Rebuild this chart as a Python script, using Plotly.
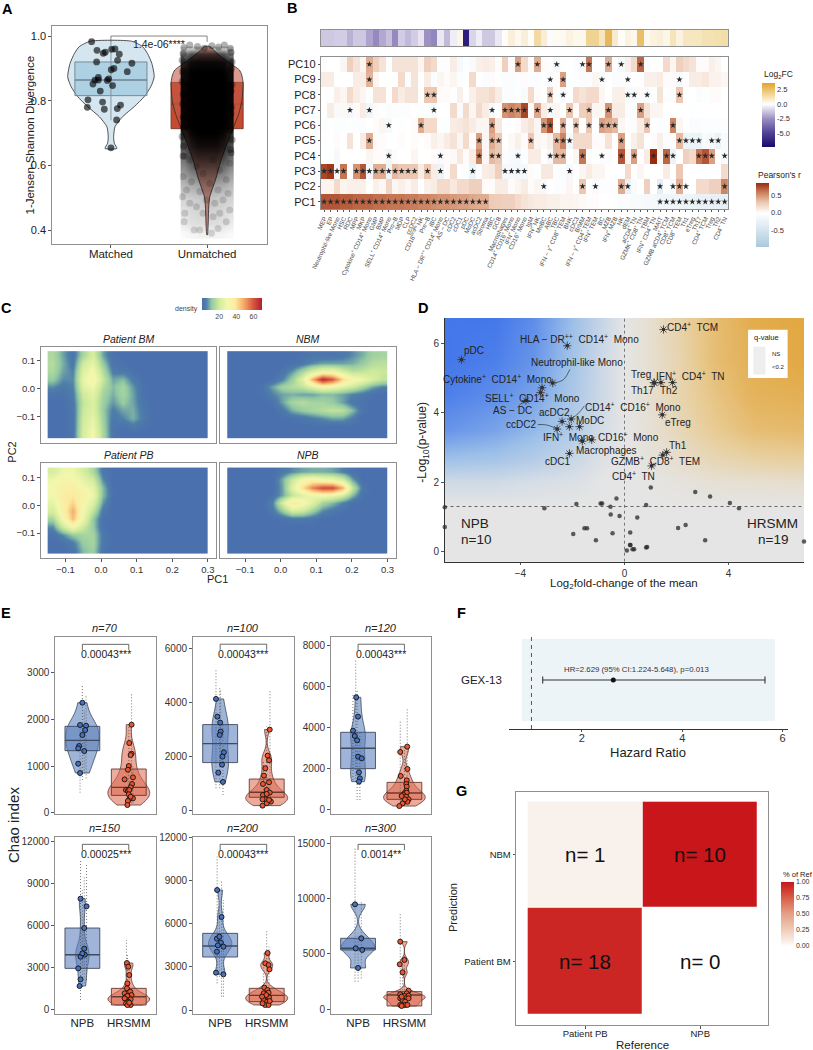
import plotly.graph_objects as go

W, H = 813, 1050
FONT = "Liberation Sans"
FRAME = "#8f8f8f"

# ---------- Panel A ----------
a_cats = ["Matched", "Unmatched"]
a_matched_x = [.799,.855,.920,.941,1.007,1.042,1.087,1.069,.851,1.218,1.031,1.003,1.170,.869,.834,.869,.813,.962,.976,1.017,.889,.761,.913,1.100,1.066,.754,.931,1.059,1.0]
a_matched_y = [.9825,.956,.9465,.950,.959,.960,.944,.925,.920,.916,.900,.896,.890,.872,.864,.864,.852,.863,.868,.847,.830,.803,.796,.787,.776,.780,.774,.741,.655]
a_tail_x = [1.761,1.865,1.924,2.045,2.114,2.2,2.235,1.768,1.82,2.062,2.131,1.958,1.889,2.166,1.744,1.993,2.08,2.218,1.785,1.924,2.114,1.837,2.028,2.2,1.751,1.958,2.131,1.889,2.062,1.82,2.235,1.768]
a_tail_y = [.427,.401,.401,.391,.406,.427,.463,.453,.484,.442,.453,.453,.473,.494,.504,.494,.484,.514,.525,.52,.525,.55,.545,.556,.566,.576,.586,.597,.617,.617,.607,.628]
a_edge_x = [1.76,1.82,1.9,1.97,2.05,2.12,2.18,2.24,1.75,2.25,1.74,2.26,1.745,2.255,1.74,2.26,1.75,2.25,1.745,2.255,1.75,2.25,1.76,2.24,1.74,2.26,1.755,2.245,1.75,2.25]
a_edge_y = [.965,.972,.968,.962,.97,.966,.972,.962,.945,.95,.925,.92,.89,.9,.86,.85,.82,.83,.79,.78,.75,.76,.72,.71,.69,.68,.66,.65,.63,.64]
a_cloud_x = [1.76,1.83,1.90,1.965,2.035,2.10,2.17,2.24]
a_cloud_y = [.96,.945,.92,.89,.85,.80,.75,.72,.70,.66,.62,.58,.54,.50,.46,.42,.39]
a_cloud_z = [
 [.15,.22,.25,.25,.25,.25,.22,.15],[.5,.68,.72,.72,.72,.72,.68,.5],[.8,.93,.95,.95,.95,.95,.93,.8],
 [.92,1,1,1,1,1,1,.92],[.95,1,1,1,1,1,1,.95],[.95,1,1,1,1,1,1,.95],[.95,1,1,1,1,1,1,.95],
 [.92,1,1,1,1,1,1,.92],[.82,.96,1,1,1,1,.96,.82],[.68,.85,.92,.92,.92,.92,.85,.68],[.55,.7,.75,.75,.75,.75,.7,.55],
 [.4,.5,.55,.55,.55,.55,.5,.4],[.28,.34,.36,.38,.38,.36,.34,.28],[.18,.2,.22,.24,.24,.22,.2,.18],[.12,.15,.17,.18,.18,.17,.15,.12],
 [.08,.12,.13,.13,.13,.13,.12,.08],[.02,.04,.05,.05,.05,.05,.04,.02]]
a_box_matched = [.816, .864, .92]
a_box_unmatched = [.714, .79, .857]
a_whisker_matched = [.74, .983]
a_viol_matched_y = [.984,.967,.946,.916,.874,.844,.813,.782,.751,.720,.689,.669,.653]
a_viol_matched_w = [.215,.33,.38,.425,.45,.415,.346,.242,.121,.042,.028,.035,.062]
a_viol_unmatched_y = [.968,.946,.921,.895,.880,.857,.802,.761,.715,.669,.617,.556,.504,.473,.411,.386]
a_viol_unmatched_w = [.028,.104,.215,.336,.36,.374,.363,.329,.27,.208,.145,.087,.028,.017,.01,.003]
a_bracket_y = [.982, 1.0]
a_p_text = "1.4e-06****"

# ---------- Panel B ----------
b_rows = ["PC1","PC2","PC3","PC4","PC5","PC6","PC7","PC8","PC9","PC10"]
b_cols = ["MEP","EP","Neutrophil-like Mono","HSC","RDC","MPP","MKP","Cytokine<sup>+</sup> CD14<sup>+</sup> Mono","GMP","BMP",
 "SELL<sup>+</sup> CD14<sup>+</sup> Mono","Pro−B","MDP","CLP","ccDC2","CD16<sup>bright</sup> NK","Pre−B","iBC","HLA − DR<sup>++</sup> CD14<sup>+</sup> Mono","AS − DC",
 "cDC2","cDC1","pDC","MoDC","acDC2","Stroma","HBC","GCB","Macrophages","CD14<sup>+</sup> CD16<sup>+</sup> Mono",
 "IFN<sup>+</sup> Mono","CD16<sup>+</sup> Mono","IgM","IFN<sup>+</sup> NK","MoBC","ABC","TBC","IFN − γ<sup>+</sup> CD8<sup>+</sup> TEM","BNK","cDC3",
 "BrMM","IFN − γ<sup>+</sup> CD4<sup>+</sup> TEM","IFN<sup>+</sup> TEM","BC","MZB","IFN<sup>+</sup> MZB","NK","dEM","aCD4<sup>+</sup> TN","GZMK<sup>+</sup> CD8<sup>+</sup> TN",
 "TBM","IFN<sup>+</sup> CD4<sup>+</sup> TN","MAIT","GZMB aCD4<sup>+</sup> TCM","CD8<sup>+</sup> TCM","CD8<sup>+</sup> TEM","Th1","eTreg","Th17","CD4<sup>+</sup> TCM",
 "Treg","Th2","CD4<sup>+</sup> TN"]
b_lfc = [-1.2,-1.2,-1.1,-1.1,-1.7,-1.2,-1.2,-2,-2.6,-1.9,
 -1.4,-2.6,-1.1,-1.5,-1.1,-.6,-2.4,-2.7,-.5,-1.5,
 -.4,.35,-6.4,-.9,-.4,-1.2,-1.2,-.5,.1,.6,
 .25,.6,.1,1.5,.7,-.1,.2,.2,.5,.3,
 .3,1.8,1.8,1.0,2.8,.8,.1,.5,.3,2.5,
 .3,.5,.6,.35,1.1,.5,1,1,1,1.2,
 1.2,1.3,1.4]
r_pc10 = [.02,0,0,.05,.25,.15,.05,.4,.25,.15,-.03,.15,.15,.15,.15,.05,.25,.2,-.03,-.03,.1,-.1,-.03,-.08,.08,.1,.08,.02,.25,.02,.45,.2,.02,.4,.02,-.03,-.12,-.02,0,-.03,-.08,.6,0,0,.4,0,-.1,.08,.2,.65,-.05,0,0,.2,.05,.25,.2,.15,.02,.02,.08,.05,0]
r_pc9 = [.1,.1,0,0,0,.1,.1,.38,.05,0,0,0,.2,-.05,.15,0,.1,-.05,.05,.02,.05,-.03,0,.2,0,-.05,.02,0,-.05,-.05,-.03,.02,-.03,-.03,-.02,-.08,.02,.45,-.02,-.03,-.05,-.05,.05,-.08,0,-.05,-.05,-.05,0,-.02,.08,.08,.1,.02,.02,-.08,-.01,.1,.1,.13,.07,.07,.04]
r_pc8 = [0,-.02,.08,.05,.2,.1,.05,-.02,.15,.15,0,.2,.1,.15,.15,-.02,.3,.3,.02,.02,-.02,.08,0,.08,.15,.15,.2,.1,-.05,-.05,-.02,-.08,.2,.02,0,.25,-.02,-.08,0,.2,.15,.2,.2,.04,0,.08,.08,-.08,-.08,.02,-.08,-.02,.15,-.03,-.05,.3,-.02,0,-.05,-.02,.02,.02,0]
r_pc7 = [0,.1,-.08,.03,-.12,.02,.1,-.15,.02,-.02,-.05,-.03,-.03,-.03,0,-.02,-.02,-.1,0,0,.2,-.08,.2,.05,.2,.1,-.1,0,.5,.55,.5,.75,.02,.42,.1,-.1,.05,0,.3,.02,.25,.3,.05,.05,.5,.1,.1,-.05,-.05,.45,.15,.05,.05,0,0,0,0,-.02,0,0,0,0,0]
r_pc6 = [-.04,-.02,-.04,-.04,-.02,-.03,-.03,0,.02,.05,-.1,0,-.02,0,.02,.4,.2,.2,-.02,-.02,.1,.12,.15,.1,.05,.05,.45,.12,0,0,.02,.1,.15,.05,.5,.7,.02,.4,0,.3,0,.3,0,.45,.4,.35,.05,-.03,.02,.1,.3,0,-.03,-.03,.55,.05,0,-.05,-.05,-.03,-.03,-.03,-.03]
r_pc5 = [-.02,0,.02,0,.15,0,.1,.4,.02,.02,0,0,.02,0,.02,0,.02,.08,.05,.1,.15,.05,.2,.02,.45,.05,.4,.3,0,.03,.08,.02,.3,.05,.03,.08,.35,.55,-.1,.2,.2,.2,.02,.02,.15,0,.45,-.02,.08,.15,0,.02,.08,-.05,-.05,.35,-.2,-.2,-.2,-.08,-.1,-.2,-.08]
r_pc4 = [0,-.02,-.1,0,0,0,0,.05,.02,.02,-.15,.02,0,0,.05,0,0,.02,-.08,.02,.03,.12,.02,.1,.55,.05,.35,.3,-.05,-.08,-.1,-.03,.1,.1,0,-.1,.35,.35,0,.05,.6,-.05,-.02,-.05,-.05,0,.7,.05,.45,0,.1,.95,.05,.65,-.2,0,.25,.2,.6,.7,.45,0,-.08]
r_pc3 = [.75,.8,-.12,.6,0,.5,.7,-.12,.4,.4,-.2,.35,.3,.3,.3,.1,.3,.1,-.2,.02,.2,0,-.03,-.2,-.05,.1,.12,.25,-.1,-.1,-.12,-.12,.02,-.02,.12,.12,-.03,-.03,-.1,-.02,.05,.1,.05,.05,0,0,0,.2,0,.05,0,0,0,.1,0,.3,0,0,0,0,0,0,.2]
r_pc2 = [.06,.06,.2,.06,.08,.08,.08,0,.08,.04,.22,.04,.08,.04,.1,-.01,.08,.1,.2,.2,.12,.2,.2,.25,.25,.02,.02,.1,.1,.02,.06,.1,.02,.05,-.1,0,-.03,-.03,.04,0,.3,0,-.08,-.03,-.03,-.03,.4,-.25,-.08,0,.25,0,-.3,-.03,-.1,.4,-.05,0,.2,.2,.25,.25,.55]
r_pc1 = [.7,.7,.7,.68,.68,.65,.65,.65,.62,.62,.6,.6,.6,.58,.58,.55,.55,.52,.5,.5,.48,.45,.45,.42,.4,.4,.28,.27,.25,.25,.2,.15,.12,.1,.1,.08,.08,.06,.06,.05,.03,.02,.02,0,0,-.02,-.05,-.05,-.08,-.08,-.1,-.1,-.15,-.17,-.18,-.19,-.2,-.2,-.22,-.22,-.25,-.25,-.28]
star_pc1 = list(range(26)) + [52,53,54,55,56,57,58,59,60,61,62]
star_pc2 = [34,40,42,46,47,52,54,55,56,62]
star_pc3 = [0,1,2,3,5,6,7,8,9,10,11,12,13,14,16,18,23,28,29,30,31,38]
star_pc4 = [10,18,24,26,27,30,35,36,37,40,43,46,48,51,53,54,58,59,60,62]
star_pc5 = [7,24,26,27,32,36,37,38,46,55,56,57,58,60,61]
star_pc6 = [10,15,26,34,35,37,39,41,43,44,45,50,54]
star_pc7 = [4,7,17,26,28,29,30,31,33,35,38,41,44,49]
star_pc8 = [16,17,35,37,47,48,50,55]
star_pc9 = [7,35,37,43,47,55]
star_pc10 = [7,30,33,36,40,41,44,46,49]

# ---------- Panel C ----------
c_x_edges = [-.15,-.122,-.094,-.066,-.037,-.009,.019,.047,.075,.103,.131,.159,.188,.216,.244,.272,.30]
c_y_edges = [-.175,-.147,-.119,-.090,-.062,-.034,-.006,.022,.050,.079,.107,.135]
c_patient_bm = [  # bottom row first
 [0,0,2,22,30,15,2,0,0,0,0,0,0,0,0,0],[0,0,2,21,28,14,2,1,3,1,0,0,0,0,0,0],[0,0,2,20,26,13,3,5,9,4,0,0,0,0,0,0],
 [0,0,2,19,24,12,4,8,9,3,0,0,0,0,0,0],[0,0,3,18,23,13,7,12,8,2,0,0,0,0,0,0],[2,1,4,20,25,14,9,14,8,1,0,0,0,0,0,0],
 [6,3,5,24,29,16,10,14,7,1,0,0,0,0,0,0],[12,6,6,26,33,19,8,10,4,0,0,0,0,0,0,0],[15,8,5,24,30,16,4,3,1,0,0,0,0,0,0,0],
 [16,9,3,20,26,12,2,1,0,0,0,0,0,0,0,0],[15,8,2,14,22,8,1,0,0,0,0,0,0,0,0,0]]
c_nbm = [
 [0]*16,[0]*16,[0,0,0,0,0,0,1,2,4,6,8,8,4,0,0,0],
 [0,0,0,0,0,3,9,12,14,16,18,17,10,2,0,0],[0,0,0,0,1,8,14,16,14,14,12,8,3,1,0,0],[0,0,0,1,5,8,9,8,8,10,10,8,5,3,1,0],
 [0,0,0,2,8,14,16,18,24,30,28,24,20,14,8,5],[0,0,0,0,1,5,13,24,48,68,60,42,32,28,22,18],[0,0,0,0,0,2,7,14,22,28,28,22,17,18,20,19],
 [0,0,0,0,0,0,1,3,6,8,8,8,9,12,16,17],[0,0,0,0,0,0,0,1,2,2,2,3,6,9,13,14]]
c_patient_pb = [
 [0,0,2,10,13,2,0,0,0,0,0,0,0,0,0,0],[0,1,4,12,14,3,0,0,0,0,0,0,0,0,0,0],[1,6,12,14,14,3,0,0,0,0,0,0,0,0,0,0],
 [6,20,30,20,12,1,0,0,0,0,0,0,0,0,0,0],[14,30,46,28,12,1,0,0,0,0,0,0,0,0,0,0],[22,34,48,30,18,3,0,0,0,0,0,0,0,0,0,0],
 [26,35,42,32,24,7,0,0,0,0,0,0,0,0,0,0],[30,36,38,34,28,10,1,0,0,0,0,0,0,0,0,0],[30,35,35,30,26,10,0,0,0,0,0,0,0,0,0,0],
 [28,33,31,26,21,6,0,0,0,0,0,0,0,0,0,0],[22,28,28,22,15,3,0,0,0,0,0,0,0,0,0,0]]
c_npb = [
 [0]*16,[0]*16,[0]*16,[0]*16,[0,0,0,0,0,1,3,3,2,0,0,0,0,0,0,0],
 [0,0,0,0,3,12,22,20,13,6,3,1,0,0,0,0],[0,0,0,0,5,22,38,32,24,14,10,5,1,0,0,0],[0,0,0,0,1,8,18,24,28,30,28,22,10,1,0,0],
 [0,0,0,0,0,8,24,40,54,62,62,48,18,3,0,0],[0,0,0,0,0,9,20,30,34,30,28,22,8,0,0,0],[0,0,0,0,0,3,6,8,9,9,8,5,1,0,0,0]]
c_titles = ["Patient BM","NBM","Patient PB","NPB"]

# ---------- Panel D ----------
d_sig_x = [1.5,-2.2,-6.27,-2.76,-3.17,-3.23,-3.79,1.13,1.15,1.40,1.85,1.45,-2.4,-2.05,-2.12,-1.73,-2.59,-1.62,-1.26,-2.12,1.62,1.47,1.04]
d_sig_y = [6.40,5.93,5.53,4.86,4.72,4.58,4.35,4.87,4.86,4.87,4.87,3.94,3.75,3.82,3.6,3.6,3.53,3.18,3.22,2.83,2.86,2.78,2.47]
d_ns_x = [1.01,2.72,3.29,-.31,4.05,4.4,.83,-.86,-.92,-1.85,-.54,-3.08,-6.91,-.53,-.19,.49,2.35,2.06,-1.54,-1.44,-6.91,-.46,-1.97,.22,-1.1,3.1,6.9,.23,.21,.31,.37,.09,.83,.87]
d_ns_y = [1.85,1.72,1.59,1.53,1.40,1.25,1.34,1.39,1.39,1.37,1.29,1.25,1.28,1.07,1.03,.98,.77,.68,.67,.67,.71,.53,.51,.55,.33,.33,.29,.19,.19,.07,.07,.03,.12,.13]
d_labels = ["CD4<sup>+</sup>  TCM","HLA − DR<sup>++</sup>  CD14<sup>+</sup>  Mono","pDC","Neutrophil-like Mono","Cytokine<sup>+</sup>  CD14<sup>+</sup>  Mono","SELL<sup>+</sup>  CD14<sup>+</sup>  Mono","AS − DC","acDC2","ccDC2","MoDC","CD14<sup>+</sup>  CD16<sup>+</sup>  Mono","Treg","IFN<sup>+</sup>  CD4<sup>+</sup>  TN","Th17","Th2","eTreg","IFN<sup>+</sup>  Mono","CD16<sup>+</sup>  Mono","Macrophages","Th1","GZMB<sup>+</sup>  CD8<sup>+</sup>  TEM","cDC1","CD4<sup>+</sup>  TN"]
d_label_x = [2.63,-1.73,-5.79,-1.81,-4.9,-3.53,-4.32,-2.69,-3.97,-1.31,.33,.62,2.54,.71,1.72,2.06,-2.14,.17,-.69,2.04,1.19,-2.59,.33]
d_label_y = [6.48,6.13,5.78,5.45,4.97,4.44,4.06,4.02,3.65,3.77,4.16,5.11,5.07,4.64,4.64,3.72,3.3,3.29,2.91,3.05,2.6,2.6,2.17]
d_seg_x = [-2.1,-2.35,-2.7,None,-3.81,-4.0,-4.1,None,-3.33,-3.0,-2.6,None,-1.54,-1.78,-2.05]
d_seg_y = [5.25,4.95,4.86,None,4.32,4.25,4.15,None,3.66,3.65,3.54,None,4.2,3.98,3.82]
d_grad_x = [-6.9,-5,-3.5,-2,-.8,0,.8,2,3.5,5,6.9]
d_grad_y = [-.29,1.3,2,2.7,3.5,4.5,5.5,6.73]
d_grad_z = [[0]*11,[0]*11,
 [-.15,-.15,-.1,-.07,0,0,0,.05,.1,.12,.15],
 [-.5,-.45,-.35,-.2,-.05,0,.05,.15,.3,.4,.45],
 [-.8,-.7,-.55,-.35,-.1,0,.08,.25,.5,.7,.75],
 [-.95,-.85,-.7,-.4,-.15,0,.1,.3,.6,.85,.9],
 [-1,-.95,-.8,-.45,-.15,0,.1,.3,.7,.9,1],
 [-1,-1,-.85,-.5,-.2,0,.1,.35,.7,.95,1]]

# ---------- Panel E ----------
e_names = ["n=70","n=100","n=120","n=150","n=200","n=300"]
e_ranges = [[-28,3771],[-137,6441],[-209,8418],[-285,12306],[-257,12021],[-397,15568]]
e_ticks = [[0,1000,2000,3000],[0,2000,4000,6000],[0,2000,4000,6000,8000],[0,3000,6000,9000,12000],[0,3000,6000,9000,12000],[0,5000,10000,15000]]
e_p = ["0.00043***","0.00043***","0.00043***","0.00025***","0.00043***","0.0014**"]
e_bracket = [[3486,3607,3400],[5953,6163,5804],[7776,8052,7581],[11359,11762,11074],[11098,11491,10844],[14367,14878,14036]]
e_npb_x = [[0,-.05,.08,.06,0,-.07,-.09,.04,-.09,-.05],[-.09,-.06,0,.01,-.01,.08,.05,.04,-.04,.06],[-.04,0,-.11,-.07,-.02,0,.08,.02,.04,.02],
 [-.04,.09,.04,.04,.05,-.04,-.09,-.04,-.06,0],[-.065,.03,-.07,.015,-.05,.07,-.07,-.09,.07,-.015],[-.065,.07,.09,-.05,0]]
e_npb_y = [[2357,1879,1864,1771,1664,1429,1379,1321,1050,850],[4133,3476,3254,2920,2796,2152,1992,1695,1398,1052],[5469,4529,3847,3587,3377,2581,2500,1818,1526,1364],
 [7897,7351,5810,4340,3913,3770,2940,2158,1684,4007],[8324,6451,4948,4671,4486,4393,4046,2590,2474,5087],[9468,6403,5350,5500,3727]]
e_hr_x = [[.06,.01,.06,.04,0,-.02,-.09,.09,.07,.04,-.06,-.02,.01,0,.09,.01,-.02,-.03,.04],
 [.065,.02,.05,-.03,-.06,-.08,.05,0,.065,-.04,-.08,0,-.03,-.09,.065,.09,0,-.09,.05],
 [.06,-.09,.065,-.08,.05,.04,.05,.04,0,.05,-.02,.04,.09,0,.065,-.04,-.11,.01,-.06],
 [-.04,-.01,.01,-.03,-.04,-.09,.03,-.06,.06,.01,-.03,-.04,.04,-.01,-.06,.04,-.03,-.09,.01],
 [.02,-.03,.04,.06,-.05,.015,-.065,.04,.01,-.04,.05,-.065,.01,-.03,.04,-.09,.065,-.01,-.1],
 [-.09,0,-.1,-.04,.09,-.09,.05,0,.09,-.09,.035,-.04,.09,-.06,.015,-.09,.015,.065,-.06]]
e_hr_y = [[1886,1493,1264,1236,1000,921,714,757,614,543,486,464,486,393,307,286,250,164,343],
 [2994,2029,1856,1559,1287,978,1040,755,656,569,569,606,408,408,346,322,260,173,384],
 [3068,2808,1981,1640,1429,1250,1120,925,795,828,714,633,503,390,390,308,178,503,665],
 [3320,3059,2466,1873,1518,1162,1280,925,1043,806,972,688,735,569,451,332,332,806,498],
 [3954,3237,3121,2821,1549,1387,1156,1202,925,809,879,694,578,347,347,462,624,1040,925],
 [6102,4449,4058,3336,1683,1353,1443,1202,1232,992,992,842,992,1142,691,391,391,391,300]]
e_box_npb = [[1329,1550,1850],[1770,2475,3180],[1997,2987,3766],[2940,3913,5810],[3676,4439,5318],[5350,5500,6403]]
e_box_hr = [[371,543,936],[483,668,1160],[503,812,1331],[332,925,1518],[578,1017,1503],[300,1292,1593]]
e_vw_npb = [.72,.36,.32,.29,.5,.72]
e_vw_hr = [.9,.9,.9,.9,.9,.9]
e_bw_npb = [240,450,500,700,550,600]
e_bw_hr = [170,230,260,260,260,260]
e_dot_npb_x = [[-.05,0,.08,.04],[-.09,-.01,.06,.01],[-.05,-.02,.04,-.11],[-.04,.09,.04,0],[-.065,.03,.07,-.015],[-.065,.07,0]]
e_dot_npb_lo = [[430,700,735,840],[817,817,569,1621],[1364,471,471,1445],[688,2111,1873,1636],[1850,925,925,2312],[2495,2795,2495]]
e_dot_npb_hi = [[1843,2750,2520,2200],[5272,4592,3230,4468],[7289,5828,3718,5666],[10648,10411,9462,8513],[10636,9017,7630,7168],[14518,9708,6853]]
e_dot_hr_x = [[.06,0,.09],[.07,0,-.07],[.06,-.09,0],[-.05,.01,-.03],[0,.05,-.065],[-.09,0,-.04]]
e_dot_hr_lo = [[200,271,200],[260,198,198],[308,146,227],[213,213,190],[185,185,185],[90,90,90]]
e_dot_hr_hi = [[2557,1914,986],[4468,3106,1869],[4935,4286,3068],[4956,3059,4008],[5549,4393,3006],[8656,5050,3246]]

# ---------- Panel F ----------
f_hr = 2.629
f_lo = 1.224
f_hi = 5.648
f_ref = 1
f_text = "HR=2.629 (95% CI:1.224-5.648), p=0.013"

# ---------- Panel G ----------
g_x = ["Patient PB","NPB"]
g_y = ["Patient BM","NBM"]
g_z = [[.947,0],[.053,1]]
g_n = [[18,0],[1,10]]


# ---------- helpers ----------
fig = go.Figure()
layout = dict(width=W, height=H, margin=dict(l=0,r=0,t=0,b=0,pad=0,autoexpand=False), paper_bgcolor="white", plot_bgcolor="white",
              showlegend=False, violinmode="overlay", font=dict(family=FONT, color="#222"))
annots, shapes = [], []
count = [0]


def axes(x0, y0, x1, y1, xr, yr, frame=True, xkw=None, ykw=None, lc=FRAME, lw=1.3):
    count[0] += 1
    n = count[0]
    sx = "" if n == 1 else str(n)
    base = dict(showgrid=False, zeroline=False, showline=True, linecolor=lc, linewidth=lw, mirror=frame,
                ticks="outside", ticklen=2.5, tickcolor="#555", tickwidth=.8, tickfont=dict(size=10, color="#333", family=FONT))
    xa = dict(base, domain=[x0/W, x1/W], range=xr, anchor="y"+sx)
    ya = dict(base, domain=[1-y1/H, 1-y0/H], range=yr, anchor="x"+sx)
    xa.update(xkw or {})
    ya.update(ykw or {})
    layout["xaxis"+sx] = xa
    layout["yaxis"+sx] = ya
    return "x"+sx, "y"+sx


def note(text, x, y, size=10, color="#222", anchor="center", angle=0, xref="paper", yref="paper", bold=False):
    if xref == "paper":
        x = x/W
    if yref == "paper":
        y = 1-y/H
    annots.append(dict(text=("<b>%s</b>" % text) if bold else text, x=x, y=y, xref=xref, yref=yref, showarrow=False,
                       xanchor=anchor, yanchor="middle", textangle=angle, font=dict(size=size, color=color, family=FONT)))


def box_trace(cx, stats, hw, fill, line, xa, ya, med_w=1.4, lw=.9):
    q1, med, q3 = stats
    fig.add_trace(go.Scatter(x=[cx-hw,cx+hw,cx+hw,cx-hw,cx-hw], y=[q1,q1,q3,q3,q1], mode="lines", fill="toself",
                             fillcolor=fill, line=dict(color=line, width=lw), xaxis=xa, yaxis=ya, hoverinfo="skip"))
    fig.add_trace(go.Scatter(x=[cx-hw,cx+hw], y=[med,med], mode="lines", line=dict(color=line, width=med_w),
                             xaxis=xa, yaxis=ya, hoverinfo="skip"))


def outline(cx, ys, ws, fill, xa, ya):
    xs = [cx-w for w in ws] + [cx+w for w in reversed(ws)] + [cx-ws[0]]
    yy = list(ys) + list(reversed(ys)) + [ys[0]]
    fig.add_trace(go.Scatter(x=xs, y=yy, mode="lines", fill="toself", fillcolor=fill, line=dict(color="#2b2b2b", width=.8, shape="spline", smoothing=.6),
                             xaxis=xa, yaxis=ya, hoverinfo="skip"))


for letter, lx, ly in [("A",7,9),("B",292,8),("C",6,308),("D",423,308),("E",6,613),("F",461,613),("G",462,791)]:
    note(letter, lx, ly, size=14.5, color="#000", bold=True)

# ---------- A ----------
xa, ya = axes(52, 26, 267, 244, [.387,2.623], [.358,1.031],
              xkw=dict(tickvals=[1,2], ticktext=a_cats, ticklabelstandoff=-3, tickfont=dict(size=11.5,color="#222",family=FONT)),
              ykw=dict(tickvals=[.4,.6,.8,1.0], tickformat=".1f", tickfont=dict(size=11,color="#222",family=FONT)))
note("1-Jensen-Shannon Divergence", 29.5, 135, size=11.5, angle=-90)
box_trace(2, a_box_unmatched, .375, "#c64a2f", "#70382b", xa, ya, med_w=1.1)
outline(2, a_viol_unmatched_y, a_viol_unmatched_w, "rgba(196,90,70,.6)", xa, ya)
outline(1, a_viol_matched_y, a_viol_matched_w, "#d5e6f0", xa, ya)
box_trace(1, a_box_matched, .375, "rgba(140,190,215,.55)", "#6f8290", xa, ya, med_w=1.5)
fig.add_trace(go.Scatter(x=[1,1], y=a_whisker_matched, mode="lines", line=dict(color="#7f8f99",width=.9), xaxis=xa, yaxis=ya, hoverinfo="skip"))
fig.add_trace(go.Scatter(x=a_matched_x, y=a_matched_y, mode="markers", marker=dict(size=6.8,color="rgba(0,0,0,.62)"), xaxis=xa, yaxis=ya, hoverinfo="skip"))
fig.add_trace(go.Scatter(x=[1,1,2,2], y=[a_bracket_y[0],a_bracket_y[1],a_bracket_y[1],a_bracket_y[0]], mode="lines", line=dict(color="#666",width=.8), xaxis=xa, yaxis=ya, hoverinfo="skip"))
note(a_p_text, 1.5, .974, size=10.5, xref=xa, yref=ya)
# the overplotted cloud of unmatched pairs sits on top of the violin
ov_xa, ov_ya = axes(52, 26, 267, 244, [.387,2.623], [.358,1.031], frame=False, xkw=dict(visible=False, overlaying=xa), ykw=dict(visible=False, overlaying=ya))
fig.add_trace(go.Heatmap(x=a_cloud_x, y=a_cloud_y, z=a_cloud_z, zmin=0, zmax=1, zsmooth="best", showscale=False, hoverinfo="skip",
                         colorscale=[[0,"rgba(0,0,0,0)"],[1,"rgba(0,0,0,1)"]], xaxis=ov_xa, yaxis=ov_ya))
fig.add_trace(go.Scatter(x=a_tail_x, y=a_tail_y, mode="markers", marker=dict(size=7,color="rgba(0,0,0,.14)"), xaxis=ov_xa, yaxis=ov_ya, hoverinfo="skip"))
fig.add_trace(go.Scatter(x=a_edge_x, y=a_edge_y, mode="markers", marker=dict(size=7,color="rgba(0,0,0,.3)"), xaxis=ov_xa, yaxis=ov_ya, hoverinfo="skip"))

# ---------- B ----------
xa, ya = axes(320.9, 30, 727.9, 46, [-.5,62.5], [-.5,.5], xkw=dict(showticklabels=False, ticks=""), ykw=dict(showticklabels=False, ticks=""))
lfc_scale = [[0,"#170a6a"],[.23,"#55449a"],[.44,"#9a8dc2"],[.668,"#ffffff"],[.8,"#f3dca6"],[1,"#e2a229"]]
fig.add_trace(go.Heatmap(z=[b_lfc], x=list(range(63)), y=[0], zmin=-7.25, zmax=3.6, colorscale=lfc_scale, xaxis=xa, yaxis=ya, hoverinfo="skip",
    colorbar=dict(x=761.7/W, xanchor="left", y=1-82.7/H, yanchor="top", lenmode="pixels", len=64.3, thicknessmode="pixels", thickness=12.6,
                  xpad=0, ypad=0, outlinewidth=0, tickvals=[-5,-2.5,0,2.5], ticktext=["-5.0","-2.5","0.0","2.5"], ticks="", tickfont=dict(size=7.5,color="#333",family=FONT))))
note("Log<sub>2</sub>FC", 761.7, 74, size=8.5, anchor="left")
xa, ya = axes(320.9, 56.7, 727.9, 209.3, [-.5,62.5], [-.5,9.5],
              xkw=dict(tickvals=list(range(63)), ticktext=b_cols, tickangle=-65, ticklen=2, tickfont=dict(size=6.2,color="#444",family=FONT)),
              ykw=dict(tickvals=list(range(10)), ticktext=b_rows, ticklen=2, tickfont=dict(size=11,color="#222",family=FONT)))
r_matrix = [r_pc1,r_pc2,r_pc3,r_pc4,r_pc5,r_pc6,r_pc7,r_pc8,r_pc9,r_pc10]
r_scale = [[0,"#aac9dc"],[.529,"#ffffff"],[.7,"#ecc6b0"],[.83,"#cf8a68"],[1,"#9b2a0e"]]
fig.add_trace(go.Heatmap(z=r_matrix, x=list(range(63)), y=list(range(10)), zmin=-.944, zmax=.84, colorscale=r_scale, xaxis=xa, yaxis=ya, hoverinfo="skip",
    colorbar=dict(x=756/W, xanchor="left", y=1-182.7/H, yanchor="top", lenmode="pixels", len=64, thicknessmode="pixels", thickness=13,
                  xpad=0, ypad=0, outlinewidth=0, tickvals=[-.5,0,.5], ticktext=["-0.5","0.0","0.5"], ticks="", tickfont=dict(size=7.5,color="#333",family=FONT))))
note("Pearson's r", 756, 175, size=8.5, anchor="left")
for row, st in enumerate([star_pc1,star_pc2,star_pc3,star_pc4,star_pc5,star_pc6,star_pc7,star_pc8,star_pc9,star_pc10]):
    fig.add_trace(go.Scatter(x=st, y=[row]*len(st), mode="markers", marker=dict(symbol="star", size=4.8, color="#2a2a2a"), xaxis=xa, yaxis=ya, hoverinfo="skip"))

# ---------- C ----------
spectral = [[0,"#4a70ae"],[.07,"#4f7fa9"],[.16,"#93c9a3"],[.28,"#cfea9b"],[.42,"#f2f8ae"],[.55,"#fdeb9f"],[.7,"#f4a968"],[.85,"#d9583f"],[1,"#ab1f32"]]
c_boxes = [(40.7,346.7,216.3,443,False,True),(220.3,346.7,396,443,False,False),(40.7,462.7,216.3,558.3,True,True),(220.3,462.7,396,558.3,True,False)]
for k, (mat, (x0,y0,x1,y1,bx,ly)) in enumerate(zip([c_patient_bm,c_nbm,c_patient_pb,c_npb], c_boxes)):
    xa, ya = axes(x0, y0, x1, y1, [-.1695,.3237], [-.193,.151] if k < 2 else [-.1905,.1525],
                  xkw=dict(tickvals=[-.1,0,.1,.2,.3], tickformat=".1f", showticklabels=bx, ticks="outside" if bx else "", tickfont=dict(size=9.5,color="#333",family=FONT)),
                  ykw=dict(tickvals=[-.1,0,.1], tickformat=".1f", showticklabels=ly, ticks="outside" if ly else "", tickfont=dict(size=9.5,color="#333",family=FONT)))
    cb = dict(orientation="h", x=232/W, xanchor="center", y=1-298/H, yanchor="top", lenmode="pixels", len=60, thicknessmode="pixels", thickness=12,
              xpad=0, ypad=0, outlinewidth=0, tickvals=[20,40,60], ticks="", tickfont=dict(size=7,color="#444",family=FONT))
    fig.add_trace(go.Heatmap(z=mat, x=c_x_edges, y=c_y_edges, zmin=0, zmax=70, zsmooth="best", colorscale=spectral, showscale=(k == 0),
                             colorbar=cb if k == 0 else None, xaxis=xa, yaxis=ya, hoverinfo="skip"))
    note("<i>%s</i>" % c_titles[k], (x0+x1)/2, y0-7.7, size=10.5)
note("density", 186.5, 309, size=7, color="#444")
note("PC2", 12, 452.7, size=11, angle=-90)
note("PC1", 218, 578.5, size=11)

# ---------- D ----------
xa, ya = axes(444.5, 318, 804, 561.7, [-6.92,6.9], [-.29,6.73], frame=False, lc="#333", lw=1,
              xkw=dict(tickvals=[-4,0,4], tickfont=dict(size=10,color="#333",family=FONT)),
              ykw=dict(tickvals=[0,2,4,6], tickfont=dict(size=10,color="#333",family=FONT)))
fig.add_trace(go.Heatmap(x=d_grad_x, y=d_grad_y, z=d_grad_z, zmin=-1, zmax=1, zsmooth="best", showscale=False, hoverinfo="skip",
                         colorscale=[[0,"#4478ea"],[.25,"#9dc0e8"],[.5,"#e5e5e5"],[.75,"#e8cb93"],[1,"#e2a843"]], xaxis=xa, yaxis=ya))
d_ref_x = [0, 0]
d_ref_span = [-.29, 6.73]
d_ref_y = [1.3, 1.3]
d_ref_xspan = [-6.92, 6.9]
fig.add_trace(go.Scatter(x=d_ref_x, y=d_ref_span, mode="lines", line=dict(color="#777",width=1,dash="3px,3px"), xaxis=xa, yaxis=ya, hoverinfo="skip"))
fig.add_trace(go.Scatter(x=d_ref_xspan, y=d_ref_y, mode="lines", line=dict(color="#666",width=1,dash="3px,3px"), xaxis=xa, yaxis=ya, hoverinfo="skip"))
fig.add_trace(go.Scatter(x=d_ns_x, y=d_ns_y, mode="markers", marker=dict(size=4.5,color="rgba(40,40,40,.75)"), xaxis=xa, yaxis=ya, hoverinfo="skip", cliponaxis=False))
fig.add_trace(go.Scatter(x=d_sig_x, y=d_sig_y, mode="markers", marker=dict(size=3.5,color="#222"), xaxis=xa, yaxis=ya, hoverinfo="skip"))
fig.add_trace(go.Scatter(x=d_sig_x, y=d_sig_y, mode="markers", marker=dict(symbol="asterisk-open",size=7,color="#333",line=dict(color="#333",width=.8)), xaxis=xa, yaxis=ya, hoverinfo="skip"))
fig.add_trace(go.Scatter(x=d_seg_x, y=d_seg_y, mode="lines", line=dict(color="#333",width=.7,shape="spline"), xaxis=xa, yaxis=ya, hoverinfo="skip"))
for t, lx, ly in zip(d_labels, d_label_x, d_label_y):
    note(t, lx, ly, size=10, xref=xa, yref=ya)
note("NPB", -6.37, .82, size=13.5, anchor="left", xref=xa, yref=ya)
note("n=10", -6.37, .34, size=13.5, anchor="left", xref=xa, yref=ya)
note("HRSMM", 5.7, .82, size=13.5, xref=xa, yref=ya)
note("n=19", 5.7, .34, size=13.5, xref=xa, yref=ya)
note("-Log<sub>10</sub>(p-value)", 423, 441.7, size=12, angle=-90)
note("Log<sub>2</sub>fold-change of the mean", 624, 584, size=11.5)
d_leg_box_x = [4.75, 6.27]
d_leg_box_y = [5.0, 6.39]
d_leg_tile_x = [4.95, 5.42]
d_leg_tile_y = [5.1, 5.9]
d_leg_x = [5.2]
d_leg_ns = [5.69]
d_leg_sig = [5.31]
shapes.append(dict(type="rect", xref=xa, yref=ya, x0=d_leg_box_x[0], x1=d_leg_box_x[1], y0=d_leg_box_y[0], y1=d_leg_box_y[1], fillcolor="white", line=dict(width=0), layer="above"))
shapes.append(dict(type="rect", xref=xa, yref=ya, x0=d_leg_tile_x[0], x1=d_leg_tile_x[1], y0=d_leg_tile_y[0], y1=d_leg_tile_y[1], fillcolor="#eeeeee", line=dict(width=0), layer="above"))
leg_xa, leg_ya = axes(444.5, 318, 804, 561.7, [-6.92,6.9], [-.29,6.73], frame=False, xkw=dict(visible=False, overlaying=xa), ykw=dict(visible=False, overlaying=ya))
fig.add_trace(go.Scatter(x=d_leg_x, y=d_leg_ns, mode="markers", marker=dict(size=4,color="#111"), xaxis=leg_xa, yaxis=leg_ya, hoverinfo="skip"))
fig.add_trace(go.Scatter(x=d_leg_x, y=d_leg_sig, mode="markers", marker=dict(size=3,color="#222"), xaxis=leg_xa, yaxis=leg_ya, hoverinfo="skip"))
fig.add_trace(go.Scatter(x=d_leg_x, y=d_leg_sig, mode="markers", marker=dict(symbol="asterisk-open",size=7,color="#333",line=dict(color="#333",width=.8)), xaxis=leg_xa, yaxis=leg_ya, hoverinfo="skip"))
note("q-value", 5.46, 6.16, size=7.5, xref=xa, yref=ya)
note("NS", 5.6, 5.69, size=6, anchor="left", xref=xa, yref=ya)
note("&lt;0.2", 5.6, 5.31, size=6, anchor="left", xref=xa, yref=ya)

# ---------- E ----------
e_boxes = [(55,636.7,155.7,814),(192.7,636.7,293.7,814),(330.7,636.7,431.3,814),(55,836.7,155.7,1013.7),(192.7,836.7,293.7,1013.7),(330.7,836.7,431.3,1013.7)]
NPB_V, HR_V = "rgba(100,135,190,.62)", "rgba(224,115,90,.62)"
NPB_B, HR_B = "rgba(95,130,190,.6)", "rgba(220,105,80,.55)"
for k, (x0,y0,x1,y1) in enumerate(e_boxes):
    xa, ya = axes(x0, y0, x1, y1, [.41,2.58], e_ranges[k],
                  xkw=dict(tickvals=[1,2], ticktext=["NPB","HRSMM"], showticklabels=k >= 3, ticks="", ticklabelstandoff=-2, tickfont=dict(size=11.5,color="#222",family=FONT)),
                  ykw=dict(tickvals=e_ticks[k], tickformat="d", tickfont=dict(size=10,color="#333",family=FONT)))
    fig.add_trace(go.Violin(x=[1]*len(e_npb_y[k]), y=e_npb_y[k], width=e_vw_npb[k], scalemode="width", spanmode="hard", bandwidth=e_bw_npb[k], points=False,
                            fillcolor=NPB_V, line=dict(color="#2e3a50",width=.7), xaxis=xa, yaxis=ya, hoverinfo="skip"))
    fig.add_trace(go.Violin(x=[2]*len(e_hr_y[k]), y=e_hr_y[k], width=e_vw_hr[k], scalemode="width", spanmode="hard", bandwidth=e_bw_hr[k], points=False,
                            fillcolor=HR_V, line=dict(color="#4a2a22",width=.7), xaxis=xa, yaxis=ya, hoverinfo="skip"))
    box_trace(1, e_box_npb[k], .375, NPB_B, "#3e4a60", xa, ya)
    box_trace(2, e_box_hr[k], .375, HR_B, "#6a3a30", xa, ya)
    for c, dx, lo, hi in [(1,e_dot_npb_x[k],e_dot_npb_lo[k],e_dot_npb_hi[k]), (2,e_dot_hr_x[k],e_dot_hr_lo[k],e_dot_hr_hi[k])]:
        px, py = [], []
        for d, l, h in zip(dx, lo, hi):
            px += [c+d, c+d, None]
            py += [l, h, None]
        fig.add_trace(go.Scatter(x=px, y=py, mode="lines", line=dict(color="#555",width=.8,dash="1px,2px"), xaxis=xa, yaxis=ya, hoverinfo="skip"))
    fig.add_trace(go.Scatter(x=[1+d for d in e_npb_x[k]], y=e_npb_y[k], mode="markers", marker=dict(size=5,color="#4472c0",line=dict(color="#111",width=.9)), xaxis=xa, yaxis=ya, hoverinfo="skip"))
    fig.add_trace(go.Scatter(x=[2+d for d in e_hr_x[k]], y=e_hr_y[k], mode="markers", marker=dict(size=5,color="#ea5530",line=dict(color="#111",width=.9)), xaxis=xa, yaxis=ya, hoverinfo="skip"))
    lo_b, hi_b, ty = e_bracket[k]
    fig.add_trace(go.Scatter(x=[1,1,2,2], y=[lo_b,hi_b,hi_b,lo_b], mode="lines", line=dict(color="#444",width=.8), xaxis=xa, yaxis=ya, hoverinfo="skip"))
    note(e_p[k], 1.5, ty, size=10.5, xref=xa, yref=ya)
    note("<i>%s</i>" % e_names[k], (x0+x1)/2, y0-8.7, size=11)
note("Chao index", 13, 825, size=15, angle=-90)

# ---------- F ----------
xa, ya = axes(509, 634, 787.7, 729, [.553,6.1], [0,1], frame=False, lc="#333", lw=1.1,
              xkw=dict(tickvals=[2,4,6], ticklen=2, ticklabelstandoff=-3, tickfont=dict(size=11,color="#333",family=FONT)),
              ykw=dict(visible=False))
f_band_x = [.806, 5.846]
f_band_y = [.084, .947]
f_row_y = [.516]
f_dash_y = [0, 1]
shapes.append(dict(type="rect", xref=xa, yref=ya, x0=f_band_x[0], x1=f_band_x[1], y0=f_band_y[0], y1=f_band_y[1], fillcolor="#edf4f8", line=dict(width=0), layer="below"))
fig.add_trace(go.Scatter(x=[f_ref,f_ref], y=f_dash_y, mode="lines", line=dict(color="#555",width=1,dash="4px,4px"), xaxis=xa, yaxis=ya, hoverinfo="skip"))
fig.add_trace(go.Scatter(x=[f_hr], y=f_row_y, mode="markers", marker=dict(size=5,color="#111"),
                         error_x=dict(type="data", symmetric=False, array=[f_hi-f_hr], arrayminus=[f_hr-f_lo], thickness=1.1, width=3.5, color="#333"),
                         xaxis=xa, yaxis=ya, hoverinfo="skip"))
note(f_text, 636.7, 669, size=7.8, color="#333")
note("GEX-13", 504, 680, size=11.5, anchor="right")
note("Hazard Ratio", 648, 752.5, size=13)

# ---------- G ----------
xa, ya = axes(516.3, 791.7, 768.3, 1025, [-.599,1.592], [-.597,1.594],
              xkw=dict(tickvals=[0,1], ticktext=g_x, ticklabelstandoff=-3, tickfont=dict(size=9.5,color="#222",family=FONT)),
              ykw=dict(tickvals=[0,1], ticktext=g_y, tickfont=dict(size=9.5,color="#222",family=FONT)))
g_scale = [[0,"#ffffff"],[.05,"#f9f2ec"],[.25,"#f0cdb8"],[.5,"#e4a086"],[.75,"#d85f48"],[1,"#c8161a"]]
fig.add_trace(go.Heatmap(z=g_z, x=[0,1], y=[0,1], zmin=0, zmax=1, xgap=1, ygap=1, colorscale=g_scale, xaxis=xa, yaxis=ya, hoverinfo="skip",
    colorbar=dict(x=781/W, xanchor="left", y=1-881.7/H, yanchor="top", lenmode="pixels", len=63.5, thicknessmode="pixels", thickness=12.7,
                  xpad=0, ypad=0, outlinewidth=0, tickvals=[0,.25,.5,.75,1], ticktext=["0.00","0.25","0.50","0.75","1.00"], ticks="", tickfont=dict(size=7,color="#333",family=FONT))))
for r in range(2):
    for c in range(2):
        note("n= %d" % g_n[r][c], c, r, size=20.5, color="#111", xref=xa, yref=ya)
note("% of Ref", 781, 874, size=7.5, anchor="left")
note("Reference", 642.5, 1045, size=11.5)
note("Prediction", 453, 908, size=11, angle=-90)

layout["annotations"] = annots
layout["shapes"] = shapes
fig.update_layout(**layout)
fig.write_html("out.html", config={"displayModeBar": False}, post_script="document.body.style.margin='0';")
